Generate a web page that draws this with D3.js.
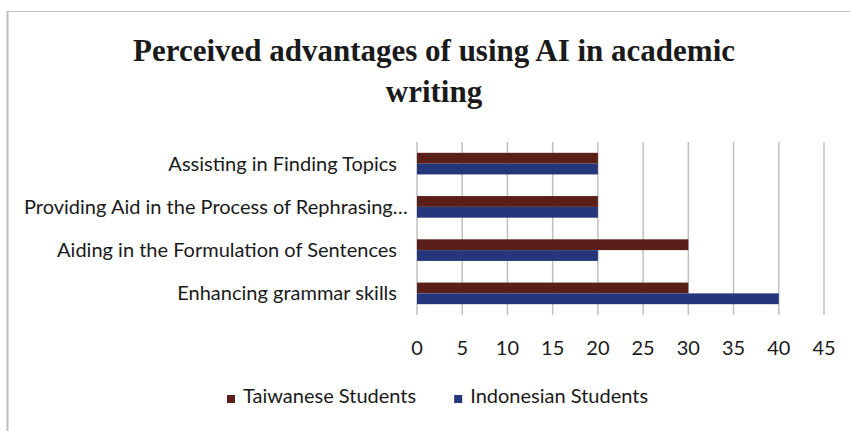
<!DOCTYPE html>
<html>
<head>
<meta charset="utf-8">
<script src="https://cdn.jsdelivr.net/npm/d3@7"></script>
<style>
  html, body { margin: 0; padding: 0; background: #fff; }
  svg { display: block; }
</style>
</head>
<body>
<svg id="chart" width="850" height="431"></svg>
<script>
const titleLines = ["Perceived advantages of using AI in academic", "writing"];
const categories = [
  "Assisting in Finding Topics",
  "Providing Aid in the Process of Rephrasing…",
  "Aiding in the Formulation of Sentences",
  "Enhancing grammar skills"
];
const seriesNames = ["Taiwanese Students", "Indonesian Students"];
const taiwanese = [20, 20, 30, 30];
const indonesian = [20, 20, 20, 40];
const xTicks = [0, 5, 10, 15, 20, 25, 30, 35, 40, 45];
const colors = ["#5B1F19", "#25367A"];

const svg = d3.select("#chart");
const labelFont = "Lato, 'Noto Sans', sans-serif";
const labelSize = 20;

// frame
svg.append("line").attr("x1", 7.5).attr("x2", 7.5).attr("y1", 11).attr("y2", 431)
  .attr("stroke", "#bdbdbd").attr("stroke-width", 2);
svg.append("line").attr("x1", 7).attr("x2", 850).attr("y1", 11.5).attr("y2", 11.5)
  .attr("stroke", "#c4c4c4").attr("stroke-width", 1);

// title
const titleY = [61, 102];
const titleW = [602, null];
titleLines.forEach((t, i) => {
  const el = svg.append("text")
    .attr("x", 434).attr("y", titleY[i])
    .attr("text-anchor", "middle")
    .attr("font-family", "'Liberation Serif', 'DejaVu Serif', serif")
    .attr("font-weight", "bold")
    .attr("font-size", 31)
    .attr("fill", "#1a1a1a")
    .text(t);
  if (titleW[i]) el.attr("textLength", titleW[i]).attr("lengthAdjust", "spacingAndGlyphs");
});

const x = d3.scaleLinear().domain([0, 45]).range([417, 824]);
const y0 = d3.scaleBand().domain(categories).range([142, 315]).paddingInner(0.5).paddingOuter(0.25);
const y1 = d3.scaleBand().domain(seriesNames).range([0, y0.bandwidth()]);

// gridlines
svg.append("g").selectAll("line").data(xTicks).join("line")
  .attr("x1", d => x(d)).attr("x2", d => x(d))
  .attr("y1", 142).attr("y2", 315)
  .attr("stroke", "#c0c0c0").attr("stroke-width", 1.5);

// bars
const data = categories.map((c, i) => ({ cat: c, vals: [taiwanese[i], indonesian[i]] }));
const g = svg.append("g");
data.forEach(d => {
  d.vals.forEach((v, j) => {
    g.append("rect")
      .attr("x", x(0))
      .attr("y", y0(d.cat) + y1(seriesNames[j]))
      .attr("width", x(v) - x(0))
      .attr("height", y1.bandwidth())
      .attr("fill", colors[j]);
  });
});

// x tick labels
svg.append("g").selectAll("text").data(xTicks).join("text")
  .attr("x", d => x(d)).attr("y", 355)
  .attr("text-anchor", "middle")
  .attr("font-family", labelFont).attr("font-size", labelSize)
  .attr("fill", "#1a1a1a")
  .text(d => d);

// category labels
const labG = svg.append("g");
categories.forEach(c => {
  const t = labG.append("text")
    .attr("y", y0(c) + y0.bandwidth() / 2 + 7)
    .attr("font-family", labelFont).attr("font-size", labelSize)
    .attr("fill", "#1a1a1a")
    .attr("text-anchor", "end")
    .text(c);
  const w = t.node().getComputedTextLength();
  t.attr("x", Math.max(397, 24 + w));
});

// legend
const leg = svg.append("g");
let lx = 227;
seriesNames.forEach((s, j) => {
  leg.append("rect").attr("x", lx).attr("y", 395).attr("width", 8).attr("height", 8).attr("fill", colors[j]);
  const t = leg.append("text").attr("x", lx + 16).attr("y", 403)
    .attr("font-family", labelFont).attr("font-size", labelSize)
    .attr("fill", "#1a1a1a").text(s);
  lx += 16 + t.node().getComputedTextLength() + 38;
});
</script>
</body>
</html>
